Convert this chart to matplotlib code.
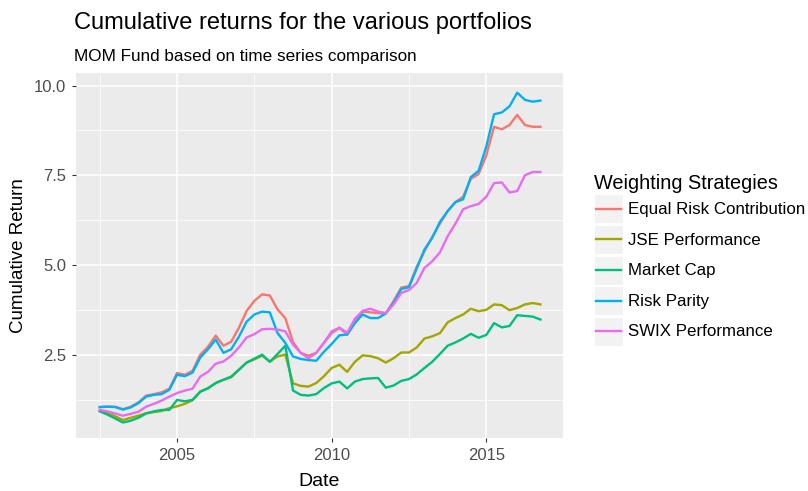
import numpy as np
import matplotlib
matplotlib.use('Agg')
from matplotlib import pyplot as plt
from matplotlib.legend_handler import HandlerLine2D
from matplotlib.patches import Rectangle
from matplotlib.lines import Line2D

plt.rcParams['font.family'] = ['Liberation Sans', 'DejaVu Sans']

# quarterly dates (decimal years)
dates = [2002.50, 2002.75, 2003.00, 2003.25, 2003.50, 2003.75, 2004.00, 2004.25,
         2004.50, 2004.75, 2005.00, 2005.25, 2005.50, 2005.75, 2006.00, 2006.25,
         2006.50, 2006.75, 2007.00, 2007.25, 2007.50, 2007.75, 2008.00, 2008.25,
         2008.50, 2008.75, 2009.00, 2009.25, 2009.50, 2009.75, 2010.00, 2010.25,
         2010.50, 2010.75, 2011.00, 2011.25, 2011.50, 2011.75, 2012.00, 2012.25,
         2012.50, 2012.75, 2013.00, 2013.25, 2013.50, 2013.75, 2014.00, 2014.25,
         2014.50, 2014.75, 2015.00, 2015.25, 2015.50, 2015.75, 2016.00, 2016.25,
         2016.50, 2016.75]

equal_risk = [1.04, 1.05, 1.05, 0.98, 1.05, 1.17, 1.36, 1.40, 1.45, 1.55, 1.99, 1.94,
              2.05, 2.50, 2.72, 3.03, 2.75, 2.86, 3.25, 3.72, 4.00, 4.18, 4.15, 3.76,
              3.52, 2.85, 2.55, 2.47, 2.55, 2.83, 3.10, 3.25, 3.06, 3.40, 3.70, 3.68,
              3.66, 3.65, 3.99, 4.37, 4.41, 4.95, 5.38, 5.78, 6.15, 6.50, 6.75, 6.90,
              7.40, 7.53, 8.05, 8.85, 8.78, 8.90, 9.18, 8.90, 8.85, 8.85]

jse = [0.94, 0.88, 0.78, 0.68, 0.74, 0.80, 0.87, 0.90, 0.93, 1.01, 1.06, 1.13,
       1.23, 1.47, 1.57, 1.71, 1.80, 1.87, 2.08, 2.28, 2.37, 2.47, 2.31, 2.45,
       2.50, 1.70, 1.63, 1.61, 1.71, 1.90, 2.13, 2.22, 2.02, 2.30, 2.48, 2.46,
       2.40, 2.28, 2.40, 2.56, 2.56, 2.70, 2.95, 3.01, 3.10, 3.40, 3.52, 3.62,
       3.78, 3.71, 3.75, 3.90, 3.88, 3.74, 3.80, 3.90, 3.94, 3.90]

market_cap = [0.92, 0.83, 0.72, 0.61, 0.66, 0.74, 0.86, 0.92, 0.96, 0.96, 1.24, 1.20,
              1.24, 1.47, 1.56, 1.71, 1.80, 1.89, 2.08, 2.28, 2.39, 2.50, 2.30, 2.52,
              2.75, 1.50, 1.38, 1.36, 1.40, 1.57, 1.70, 1.75, 1.56, 1.75, 1.82, 1.84,
              1.85, 1.58, 1.64, 1.77, 1.82, 1.95, 2.13, 2.30, 2.52, 2.75, 2.84, 2.95,
              3.08, 2.97, 3.05, 3.38, 3.26, 3.30, 3.60, 3.58, 3.56, 3.48]

risk_parity = [1.04, 1.05, 1.04, 0.97, 1.03, 1.15, 1.33, 1.38, 1.40, 1.52, 1.94, 1.90,
               2.00, 2.42, 2.65, 2.92, 2.55, 2.65, 3.00, 3.42, 3.62, 3.70, 3.68, 3.10,
               2.83, 2.45, 2.38, 2.35, 2.33, 2.58, 2.80, 3.04, 3.06, 3.38, 3.62, 3.52,
               3.52, 3.65, 3.94, 4.33, 4.38, 4.90, 5.43, 5.75, 6.20, 6.50, 6.75, 6.83,
               7.45, 7.62, 8.30, 9.20, 9.25, 9.42, 9.80, 9.60, 9.55, 9.58]

swix = [0.96, 0.92, 0.86, 0.80, 0.85, 0.91, 1.05, 1.13, 1.22, 1.33, 1.43, 1.50,
        1.55, 1.89, 2.02, 2.25, 2.31, 2.47, 2.70, 2.98, 3.07, 3.21, 3.22, 3.20,
        3.15, 2.78, 2.55, 2.40, 2.55, 2.83, 3.15, 3.25, 3.11, 3.50, 3.72, 3.78,
        3.70, 3.66, 3.90, 4.22, 4.30, 4.50, 4.92, 5.10, 5.35, 5.80, 6.15, 6.55,
        6.64, 6.70, 6.90, 7.28, 7.30, 7.02, 7.06, 7.50, 7.59, 7.59]

strategies = ['Equal Risk Contribution', 'JSE Performance', 'Market Cap',
              'Risk Parity', 'SWIX Performance']
series = [equal_risk, jse, market_cap, risk_parity, swix]
cols = ['#F8766D', '#A3A500', '#00BF7D', '#00B0F6', '#E76BF3']


class KeyHandler(HandlerLine2D):
    """ legend key with a grey square behind the line, ggplot style """
    def create_artists(self, legend, orig_handle, xdescent, ydescent,
                       width, height, fontsize, trans):
        bg = Rectangle((-xdescent, -ydescent), width, height,
                       facecolor='#F2F2F2', edgecolor='white', linewidth=0.8,
                       transform=trans)
        ymid = height / 2. - ydescent
        line = Line2D([-xdescent + 0.08 * width, -xdescent + 0.92 * width],
                      [ymid, ymid], color=orig_handle.get_color(),
                      linewidth=orig_handle.get_linewidth(), transform=trans)
        return [bg, line]


fig = plt.figure(figsize=(8.08, 4.91), dpi=100)
ax = fig.add_axes([0.094, 0.107, 0.6024, 0.7444])
ax.set_facecolor('#EBEBEB')

for name, vals, c in zip(strategies, series, cols):
    ax.plot(dates, vals, color=c, linewidth=1.7, label=name, zorder=3)

ax.set_xlim(2001.73, 2017.47)
ax.set_ylim(0.165, 10.35)
ax.set_xticks([2005, 2010, 2015])
ax.set_xticklabels(['2005', '2010', '2015'])
ax.set_xticks([2002.5, 2007.5, 2012.5], minor=True)
ax.set_yticks([2.5, 5.0, 7.5, 10.0])
ax.set_yticklabels(['2.5', '5.0', '7.5', '10.0'])
ax.set_yticks([1.25, 3.75, 6.25, 8.75], minor=True)
ax.grid(which='major', color='white', linewidth=1.1, zorder=0)
ax.grid(which='minor', color='white', linewidth=0.55, zorder=0)
ax.set_axisbelow(True)
for s in ax.spines.values():
    s.set_visible(False)
ax.tick_params(which='major', length=3, width=0.8, color='#333333',
               labelsize=12, labelcolor='#4D4D4D', pad=4)
ax.tick_params(which='minor', length=0)

ax.set_xlabel('Date', fontsize=14, color='black', va='center')
ax.set_ylabel('Cumulative Return', fontsize=13.5, color='black', va='center')
ax.xaxis.set_label_coords(0.5, -0.118)
ax.yaxis.set_label_coords(-0.118, 0.5)

fig.text(0.0915, 0.953, 'Cumulative returns for the various portfolios',
         fontsize=17, ha='left', va='center')
fig.text(0.0915, 0.885, 'MOM Fund based on time series comparison',
         fontsize=12.3, ha='left', va='center')

leg = ax.legend(loc='upper left', bbox_to_anchor=(1.064, 0.724), frameon=False,
                title='Weighting Strategies', title_fontsize=14.3, fontsize=12.2,
                handlelength=1.72, handleheight=2.26, handletextpad=0.3,
                labelspacing=0.09, borderaxespad=0.0, borderpad=0.0,
                handler_map={Line2D: KeyHandler()})
leg._legend_box.align = 'left'

fig.savefig('out.png', dpi=100)
